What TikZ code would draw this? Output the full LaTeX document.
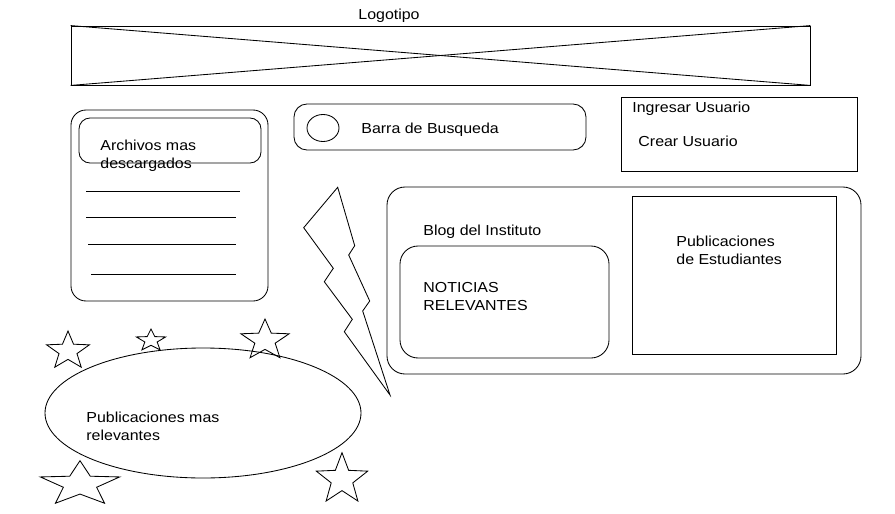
\documentclass[tikz,border=0pt]{standalone}
\usepackage{fontspec}
\setmainfont{Liberation Sans}[FakeStretch=1.1]
\usetikzlibrary{shapes.geometric}
\begin{document}
\begin{tikzpicture}[x=1pt,y=-1pt,line width=0.85pt,
  lbl/.style={anchor=west,inner sep=0pt,align=left,font=\fontsize{14.5}{18}\selectfont},
  boxr/.style={draw,rounded corners=#1},
  starpic/.pic={\draw (-90:1) -- (-54:0.42) -- (-18:1) -- (18:0.42) -- (54:1) -- (90:0.42) -- (126:1) -- (162:0.42) -- (198:1) -- (234:0.42) -- cycle;}]
\useasboundingbox (0,0) rectangle (895,514);
% logo
\node[lbl,anchor=center] (logotxt) at (389,16) {Logotipo};
\node[draw,minimum width=739pt,minimum height=59pt,inner sep=0pt] (logo) at (440.5,55.5) {};
\draw (logo.north west) -- (logo.south east);
\draw (logo.south west) -- (logo.north east);
% archivos
\node[boxr=15pt,minimum width=197pt,minimum height=191pt,inner sep=0pt] (arch) at (169.5,205.5) {};
\node[boxr=11pt,minimum width=182pt,minimum height=45pt,inner sep=0pt] (archhead) at (170,140.5) {};
\node[lbl] (archtxt) at (100,156) {Archivos mas\\descargados};
\coordinate (l1a) at (86,191); \coordinate (l1b) at (240,191);
\coordinate (l2a) at (86,217); \coordinate (l2b) at (236,217);
\coordinate (l3a) at (88,244); \coordinate (l3b) at (236,244);
\coordinate (l4a) at (91,274); \coordinate (l4b) at (236,274);
\draw (l1a) -- (l1b); \draw (l2a) -- (l2b); \draw (l3a) -- (l3b); \draw (l4a) -- (l4b);
% search bar
\node[boxr=13pt,minimum width=292pt,minimum height=46pt,inner sep=0pt] (search) at (440,127) {};
\node[draw,ellipse,minimum width=32pt,minimum height=27pt,inner sep=0pt] (searchicon) at (323,128) {};
\node[lbl] (searchtxt) at (361,130) {Barra de Busqueda};
% user box
\node[draw,minimum width=236pt,minimum height=74pt,inner sep=0pt] (user) at (739,134) {};
\node[lbl] (ingresar) at (632,109) {Ingresar Usuario};
\node[lbl] (crear) at (638,141) {Crear Usuario};
% blog
\node[boxr=18pt,minimum width=474pt,minimum height=187pt,inner sep=0pt] (blog) at (624,280.5) {};
\node[lbl] (blogtxt) at (423,232) {Blog del Instituto};
\node[boxr=18pt,minimum width=209pt,minimum height=112pt,inner sep=0pt] (noticias) at (504.5,302) {};
\node[lbl] (notitxt) at (423,296.5) {NOTICIAS\\RELEVANTES};
\node[draw,minimum width=204pt,minimum height=158pt,inner sep=0pt] (pubest) at (734,275) {};
\node[lbl] (pubesttxt) at (676,250) {Publicaciones\\de Estudiantes};
% lightning
\draw (337.7,187.3) -- (303.7,227.7) -- (333.3,268.3) -- (324.3,281.7) -- (352.3,319.3) -- (344.3,331.7) -- (390,395) -- (362.7,311) -- (369.7,301) -- (348.7,255) -- (354.7,245.7) -- cycle;
% ellipse
\node[draw,ellipse,minimum width=316pt,minimum height=130pt,inner sep=0pt] (pubrel) at (203,413) {};
\node[lbl] (pubreltxt) at (86,426) {Publicaciones mas\\relevantes};
% stars
\pic[xscale=22.5,yscale=20] (s1) at (68,351) {starpic};
\pic[xscale=15.4,yscale=11.5] (s2) at (151,340.5) {starpic};
\pic[xscale=25.4,yscale=21.4] (s3) at (265,340.4) {starpic};
\pic[xscale=41.7,yscale=23.5] (s4) at (80,484.2) {starpic};
\pic[xscale=27,yscale=26.7] (s5) at (342,479.4) {starpic};
\end{tikzpicture}
\end{document}
